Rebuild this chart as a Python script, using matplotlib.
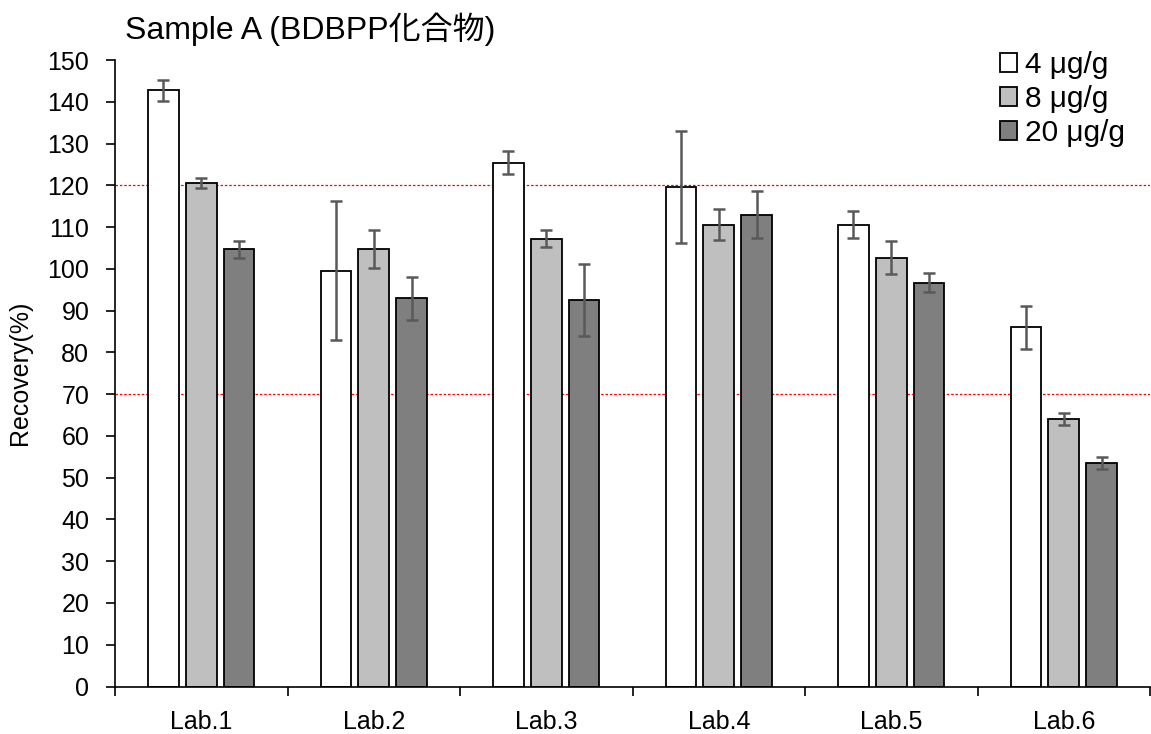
import matplotlib
matplotlib.use("Agg")
import matplotlib.pyplot as plt
import numpy as np

labs = ["Lab.1", "Lab.2", "Lab.3", "Lab.4", "Lab.5", "Lab.6"]
series_names = ["4 μg/g", "8 μg/g", "20 μg/g"]
vals_4 = [142.7, 99.6, 125.4, 119.7, 110.6, 86.0]
err_4 = [2.6, 16.7, 2.7, 13.4, 3.3, 5.1]
vals_8 = [120.6, 104.7, 107.2, 110.6, 102.7, 64.0]
err_8 = [1.2, 4.6, 2.0, 3.7, 3.9, 1.5]
vals_20 = [104.7, 92.9, 92.5, 113.0, 96.7, 53.5]
err_20 = [2.0, 5.2, 8.6, 5.6, 2.3, 1.5]
colors = ["#ffffff", "#bfbfbf", "#7f7f7f"]
ref_lines = [120, 70]

fam = ["Liberation Sans", "Noto Sans CJK JP", "DejaVu Sans"]
plt.rcParams['font.family'] = fam

fig = plt.figure(figsize=(11.51, 7.34), dpi=100)
ax = fig.add_axes([115/1151, 1-686.5/734, 1035/1151, (686.5-60)/734])

x = np.arange(len(labs))
width = 0.177
step = 0.22
for i, (v, e) in enumerate([(vals_4, err_4), (vals_8, err_8), (vals_20, err_20)]):
    ax.bar(x + (i-1)*step, v, width, color=colors[i], edgecolor="black", linewidth=1.3,
           label=series_names[i], zorder=2)
    ax.errorbar(x + (i-1)*step, v, yerr=e, fmt="none", ecolor="#595959", elinewidth=1.8,
                capsize=4.3, capthick=1.8, zorder=3)

for r in ref_lines:
    ax.axhline(r, color="red", linestyle=(0, (2, 1.5)), linewidth=0.9, zorder=1)

ax.set_xlim(-0.5, len(labs)-0.5)
ax.set_ylim(0, 150)
ax.set_yticks(np.arange(0, 151, 10))
ax.set_xticks(np.arange(-0.5, len(labs), 1.0))
ax.set_xticklabels([])
ax.set_xticks(x, minor=True)
ax.set_xticklabels(labs, minor=True)
ax.tick_params(axis="x", which="minor", length=0, labelsize=18, pad=17)
ax.tick_params(axis="x", which="major", length=6.5, width=1.2, direction="out")
ax.tick_params(axis="y", length=6.5, width=1.2, direction="out", labelsize=18, pad=12)
for s in ["top", "right"]:
    ax.spines[s].set_visible(False)
for s in ["left", "bottom"]:
    ax.spines[s].set_linewidth(1.2)
    ax.spines[s].set_color("black")

ax.set_ylabel("Recovery(%)", fontsize=18)
ax.yaxis.set_label_coords(-83/1035, 0.5)
fig.text(125/1151, 1-29/734, "Sample A (BDBPP化合物)", fontsize=23, va="center", ha="left",
         family=fam)

leg = ax.legend(loc="upper right", bbox_to_anchor=(0.993, 1.043), frameon=False, fontsize=21.5,
                handlelength=0.57, handleheight=0.57, handletextpad=0.25, labelspacing=0.2,
                borderaxespad=0.2)

fig.savefig("out.png", dpi=100)
